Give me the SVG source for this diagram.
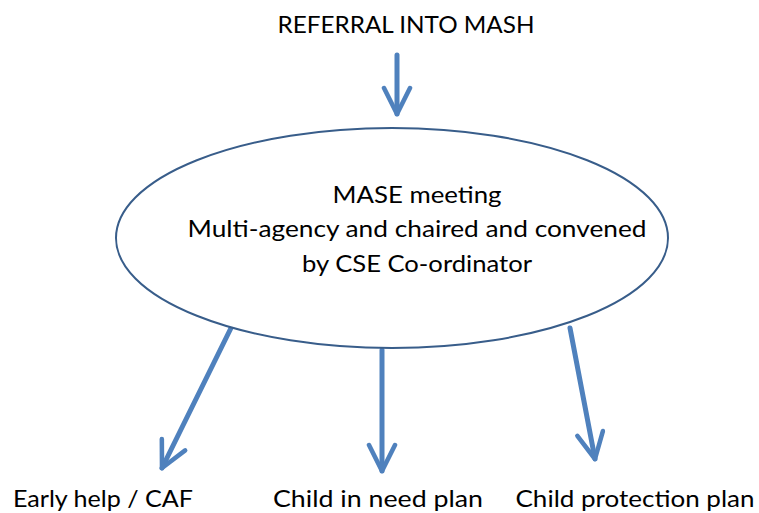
<svg xmlns="http://www.w3.org/2000/svg" width="759" height="513" viewBox="0 0 759 513">
<defs>
<style>
.t{font-family:Lato,"Open Sans","Liberation Sans",sans-serif;font-size:24px;fill:#000;text-anchor:middle}
.c{fill:none;stroke:#4F81BD;stroke-width:5;stroke-linecap:round;stroke-linejoin:round}
</style>
<marker id="ah" viewBox="0 0 10 10" refX="9" refY="5" markerWidth="6.5" markerHeight="6.5" orient="auto" markerUnits="strokeWidth">
<path d="M1,1 L9,5 L1,9" fill="none" stroke="#4F81BD" stroke-width="1.4" stroke-linecap="round" stroke-linejoin="round"/>
</marker>
</defs>
<rect width="759" height="513" fill="#fff"/>
<g id="connectors">
<line class="c" x1="397" y1="55" x2="397" y2="114" marker-end="url(#ah)"/>
<line class="c" x1="231" y1="328" x2="162" y2="468" marker-end="url(#ah)"/>
<line class="c" x1="382" y1="350" x2="382" y2="471" marker-end="url(#ah)"/>
<line class="c" x1="570" y1="328" x2="595" y2="459" marker-end="url(#ah)"/>
</g>
<g id="referral">
<text class="t" x="406" y="33" textLength="257" lengthAdjust="spacingAndGlyphs">REFERRAL INTO MASH</text>
</g>
<g id="mase">
<ellipse cx="392" cy="238" rx="276" ry="110" fill="#fff" stroke="#385D8A" stroke-width="2"/>
<text class="t" x="417" y="203" textLength="169" lengthAdjust="spacingAndGlyphs">MASE meeting</text>
<text class="t" x="417" y="237" textLength="459" lengthAdjust="spacingAndGlyphs">Multi-agency and chaired and convened</text>
<text class="t" x="417" y="272" textLength="230" lengthAdjust="spacingAndGlyphs">by CSE Co-ordinator</text>
</g>
<g id="early">
<text class="t" x="103" y="507" textLength="180" lengthAdjust="spacingAndGlyphs">Early help / CAF</text>
</g>
<g id="cin">
<text class="t" x="378" y="507" textLength="210" lengthAdjust="spacingAndGlyphs">Child in need plan</text>
</g>
<g id="cp">
<text class="t" x="635" y="507" textLength="239" lengthAdjust="spacingAndGlyphs">Child protection plan</text>
</g>
</svg>
